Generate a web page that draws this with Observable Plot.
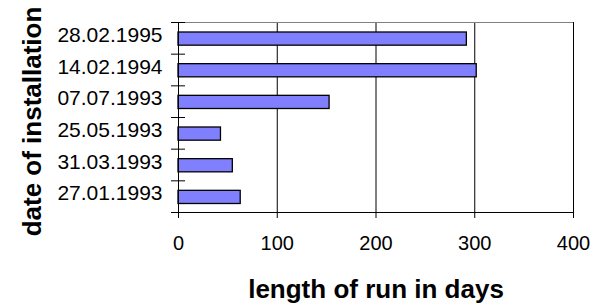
<!DOCTYPE html>
<html>
<head>
<meta charset="utf-8">
<script src="https://cdn.jsdelivr.net/npm/d3@7"></script>
<script src="https://cdn.jsdelivr.net/npm/@observablehq/plot@0.6"></script>
<style>
  html, body { margin: 0; padding: 0; background: #fff; }
  svg { display: block; }
</style>
</head>
<body>
<div id="chart"></div>
<script>
// categories listed bottom to top
const dates = ["27.01.1993", "31.03.1993", "25.05.1993", "07.07.1993", "14.02.1994", "28.02.1995"];
const days = [63, 55, 43, 153, 302, 292];
const xTicks = [0, 100, 200, 300, 400];
const xTitle = "length of run in days";
const yTitle = "date of installation";

const data = dates.map((d, i) => ({date: d, days: days[i], i}));
const bounds = d3.range(dates.length + 1);
const font = "'Liberation Sans', Arial, sans-serif";

const chart = Plot.plot({
  width: 605,
  height: 303,
  marginLeft: 178,
  marginRight: 32,
  marginTop: 22,
  marginBottom: 91,
  style: {fontFamily: font, color: "#000", background: "#fff"},
  x: {domain: [0, 400], axis: null},
  y: {domain: [0, dates.length], axis: null},
  marks: [
    Plot.ruleX(xTicks.slice(1), {stroke: "#000", strokeOpacity: 1}),
    Plot.ruleY([dates.length], {stroke: "#808080", strokeOpacity: 1}),
    Plot.rectX(data, {
      x: "days", y1: d => d.i, y2: d => d.i + 1,
      insetTop: 10, insetBottom: 8.5,
      fill: "#8080ff", stroke: "#000", strokeWidth: 1.3
    }),
    Plot.ruleX([0], {stroke: "#000", strokeOpacity: 1}),
    Plot.ruleY([0], {stroke: "#000", strokeOpacity: 1}),
    Plot.ruleY(bounds, {y: d => d, x1: 0, x2: 0, insetLeft: -7, insetRight: -7, stroke: "#000", strokeOpacity: 1}),
    Plot.axisX(xTicks, {tickSize: 6, tickPadding: 17, fontSize: 20, stroke: "#000", strokeOpacity: 1, fill: "#000", label: null}),
    Plot.text(data, {x: 0, y: d => d.i + 0.5, text: "date", textAnchor: "end", dx: -16, dy: -3, fontSize: 21, fill: "#000"}),
    Plot.text([xTitle], {frameAnchor: "bottom", lineAnchor: "middle", textAnchor: "middle", dy: 77, fontSize: 26, fontWeight: "bold", fill: "#000"}),
    Plot.text([yTitle], {frameAnchor: "left", lineAnchor: "middle", textAnchor: "middle", rotate: -90, dx: -146, dy: 4, fontSize: 26, fontWeight: "bold", fill: "#000"})
  ]
});
document.getElementById("chart").appendChild(chart);
</script>
</body>
</html>
